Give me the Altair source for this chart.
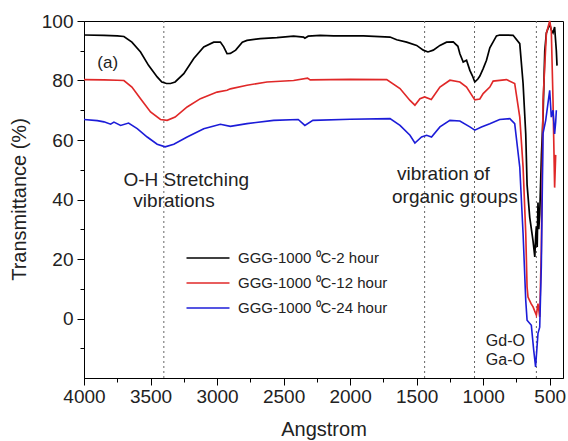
import altair as alt
import pandas as pd

series_names = ["GGG-1000 ⁰C-2 hour", "GGG-1000 ⁰C-12 hour", "GGG-1000 ⁰C-24 hour"]
series_colors = ["#000000", "#e02828", "#1c1cd8"]
series_widths = [1.7, 1.6, 2.6]

wn_2h = [4000, 3850, 3750, 3700, 3640, 3575, 3515, 3450, 3415, 3380, 3350, 3315, 3250, 3175,
         3100, 3025, 2975, 2950, 2925, 2900, 2860, 2810, 2775, 2675, 2550, 2425, 2350, 2340,
         2315, 2225, 2125, 1900, 1700, 1650, 1575, 1500, 1450, 1415, 1375, 1325, 1275, 1225,
         1190, 1175, 1150, 1125, 1100, 1080, 1063, 1040, 1025, 1000, 975, 950, 925, 900, 876,
         775, 725, 700, 680, 670, 650, 625, 612, 605, 600, 594, 588, 582, 575, 562, 550, 537,
         525, 500, 488, 475, 463, 450, 445]
t_2h = [95.3, 95.2, 95.0, 94.8, 92.9, 89.6, 85.1, 81.2, 79.5, 79.0, 79.0, 79.5, 82.3, 87.4,
        91.3, 92.9, 92.9, 91.3, 89.0, 89.1, 90.2, 92.9, 93.5, 94.1, 94.4, 94.9, 94.6, 94.2,
        94.9, 95.2, 95.0, 95.0, 94.6, 93.7, 92.9, 91.8, 90.2, 89.6, 90.2, 91.8, 92.9, 93.0,
        91.5, 89.0, 86.2, 86.8, 83.4, 81.5, 79.5, 80.5, 81.5, 84.0, 86.8, 91.0, 93.0, 95.0, 95.3,
        95.2, 92.4, 79.0, 62.0, 45.0, 34.0, 26.0, 20.7, 28.0, 31.0, 24.0, 39.0, 30.0, 35.0, 55.0, 68.0, 90.0,
        96.0, 99.0, 97.0, 96.0, 98.0, 90.0, 85.0]

wn_12h = [4000, 3850, 3750, 3700, 3640, 3575, 3500, 3425, 3375, 3315, 3225, 3125, 3000, 2925,
          2900, 2775, 2625, 2425, 2320, 2300, 2000, 1725, 1625, 1550, 1513, 1475, 1440, 1390,
          1325, 1250, 1175, 1125, 1063, 1025, 1000, 950, 925, 825, 763, 725, 700, 680, 670, 663,
          640, 625, 600, 588, 575, 563, 550, 525, 500, 488, 475, 463, 455]
t_12h = [80.3, 80.2, 80.1, 80.0, 77.8, 73.9, 69.4, 66.9, 66.6, 67.7, 71.1, 73.9, 76.1, 76.7,
         77.2, 78.4, 79.5, 80.0, 80.8, 80.2, 80.4, 80.3, 77.3, 73.3, 71.7, 73.9, 74.5, 73.6,
         77.8, 80.1, 79.5, 77.8, 73.5, 73.8, 75.6, 77.8, 79.8, 80.3, 79.0, 67.7, 50.9, 28.6, 10.6, 7.2,
         5.0, 3.9, 1.1, 5.0, 0.5, 22.9, 73.3, 95.8, 100.0, 96.9, 73.3, 44.0, 55.0]

wn_24h = [4000, 3900, 3850, 3800, 3775, 3725, 3665, 3600, 3525, 3450, 3390, 3325, 3225, 3100,
          2975, 2900, 2775, 2575, 2390, 2340, 2280, 2000, 1700, 1625, 1550, 1513, 1463, 1425,
          1388, 1325, 1250, 1175, 1100, 1063, 1013, 950, 876, 800, 763, 725, 700, 680, 670, 638,
          620, 606, 588, 575, 563, 550, 530, 500, 488, 475, 463, 455, 450]
t_24h = [66.9, 66.5, 66.1, 65.3, 66.0, 64.9, 65.7, 63.8, 61.0, 58.6, 57.7, 58.6, 61.0, 63.8,
         65.3, 64.6, 65.5, 66.6, 66.9, 64.9, 66.6, 67.0, 67.2, 64.9, 61.6, 59.0, 61.0, 61.6,
         61.0, 64.4, 66.6, 66.4, 64.4, 63.3, 64.4, 65.5, 66.9, 67.2, 65.5, 50.9, 28.5, 6.1, -0.6, -2.3,
         -10.7, -16.3, -5.0, -2.9, 17.3, 62.2, 66.6, 76.7, 67.7, 70.0, 62.0, 66.0, 70.0]

marker_wn = [3400, 1440, 1065, 600]

x_major = [4000, 3500, 3000, 2500, 2000, 1500, 1000, 500]
x_minor = [3750, 3250, 2750, 2250, 1750, 1250, 750]
y_major = [0, 20, 40, 60, 80, 100]
y_minor = [-10, 10, 30, 50, 70, 90]

note_text = ["(a)", "O-H Stretching", "vibrations", "vibration of", "organic groups", "Gd-O", "Ga-O"]
note_wn = [3900, 3704, 3629, 1648, 1685, 980, 980]
note_t = [86.0, 46.4, 39.4, 48.5, 40.7, -7.6, -13.9]
note_size = [17, 19, 19, 19, 19, 16, 16]

FONT = "Liberation Sans"

rows = []
for name, wns, ts in zip(series_names, [wn_2h, wn_12h, wn_24h], [t_2h, t_12h, t_24h]):
    for w, t in zip(wns, ts):
        rows.append({"series": name, "wn": w, "t": t})
df = pd.DataFrame(rows)
marks_df = pd.DataFrame({"wn": marker_wn})
notes_df = pd.DataFrame({"text": note_text, "wn": note_wn, "t": note_t, "fs": note_size})

x_scale = alt.Scale(domain=[400, 4000], reverse=True, nice=False, zero=False)
y_scale = alt.Scale(domain=[-20, 100], nice=False, zero=False)

x_axis = alt.Axis(
    title="Angstrom", values=x_major, format="d", orient="bottom",
    tickSize=7, labelPadding=2, labelFlush=False, labelOverlap=False,
    titleY=57, titleBaseline="alphabetic",
)
y_axis = alt.Axis(
    title="Transmittance (%)", values=y_major, format="d", orient="left",
    tickSize=7, labelPadding=4, labelFlush=False, labelOverlap=False,
    titleX=-65, titleY=178, titleBaseline="middle", titleAlign="center",
)
x_minor_axis = alt.Axis(title=None, values=x_minor, labels=False, tickSize=4, domain=False,
                        orient="bottom")
y_minor_axis = alt.Axis(title=None, values=y_minor, labels=False, tickSize=4, domain=False,
                        orient="left")

lines = alt.Chart(df).mark_line().encode(
    x=alt.X("wn:Q", scale=x_scale, axis=x_axis),
    y=alt.Y("t:Q", scale=y_scale, axis=y_axis),
    color=alt.Color("series:N", scale=alt.Scale(domain=series_names, range=series_colors),
                    sort=series_names,
                    legend=alt.Legend(title=None, orient="none", legendX=112, legendY=225,
                                      symbolType="M-2,0H2", symbolSize=462, symbolStrokeWidth=2,
                                      labelFontSize=15, labelFont=FONT, labelColor="#222",
                                      labelOffset=18, rowPadding=5, padding=0)),
    strokeWidth=alt.StrokeWidth("series:N", scale=alt.Scale(domain=series_names, range=series_widths),
                                legend=None),
)

rules = alt.Chart(marks_df).mark_rule(color="#666", strokeDash=[2, 3], strokeWidth=1).encode(
    x=alt.X("wn:Q", scale=x_scale, axis=None)
)

notes = alt.Chart(notes_df).mark_text(align="left", baseline="middle", font=FONT, color="#222").encode(
    x=alt.X("wn:Q", scale=x_scale, axis=None),
    y=alt.Y("t:Q", scale=y_scale, axis=None),
    text="text:N",
    size=alt.Size("fs:Q", scale=None, legend=None),
)

minor = alt.Chart(notes_df).mark_point(opacity=0).encode(
    x=alt.X("wn:Q", scale=x_scale, axis=x_minor_axis),
    y=alt.Y("t:Q", scale=y_scale, axis=y_minor_axis),
)

chart = alt.layer(rules, lines, notes, minor).resolve_axis(
    x="independent", y="independent"
).properties(
    width=479, height=357,
    autosize=alt.AutoSizeParams(type="none"),
    padding={"left": 84, "top": 21, "right": 5, "bottom": 63},
).configure_view(stroke="black", strokeWidth=1).configure_axis(
    grid=False, domainColor="black", tickColor="black", labelFont=FONT, titleFont=FONT,
    labelFontSize=19, titleFontSize=20, labelColor="#222", titleColor="#222",
    titleFontWeight="normal", domainWidth=1, tickWidth=1,
)

chart.save("out.html", embed_options={"renderer": "svg", "actions": False})
